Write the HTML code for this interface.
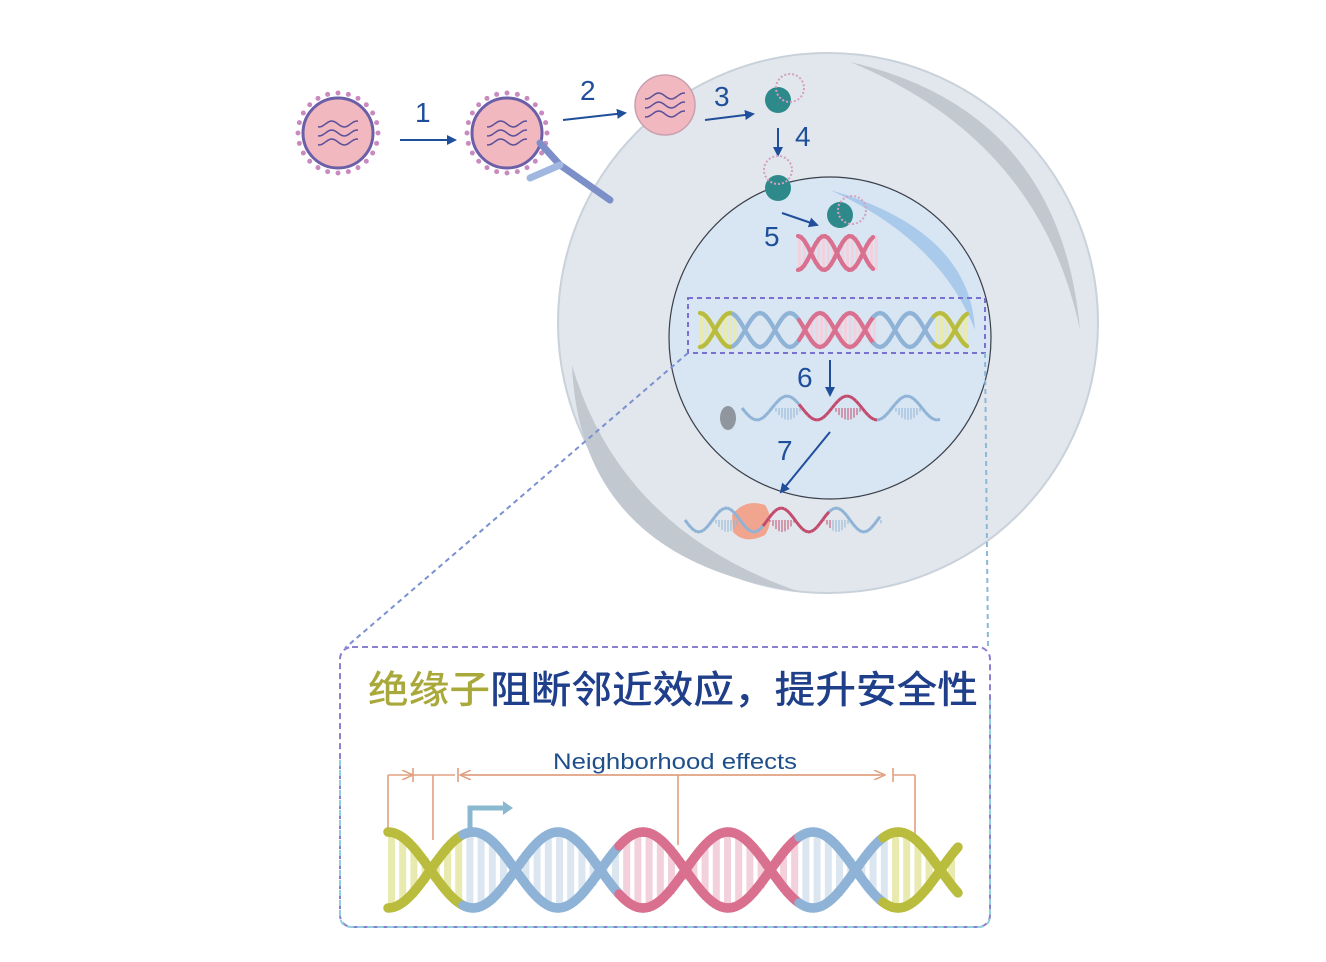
<!DOCTYPE html>
<html><head><meta charset="utf-8">
<style>
html,body{margin:0;padding:0;background:#fff;}
svg{display:block;}
</style></head>
<body>
<svg id="s" width="1326" height="962" viewBox="0 0 1326 962" xmlns="http://www.w3.org/2000/svg" font-family="Liberation Sans, Noto Sans CJK SC, sans-serif">
<defs>
<marker id="ar" markerWidth="10" markerHeight="10" refX="8" refY="5" orient="auto" markerUnits="userSpaceOnUse"><path d="M0,0 L10,5 L0,10 z" fill="#1f4f9a"/></marker>
<marker id="ao" markerWidth="12" markerHeight="10" refX="11" refY="5" orient="auto" markerUnits="userSpaceOnUse"><path d="M0,0 L11,5 L0,10" fill="none" stroke="#e0a080" stroke-width="1.5"/></marker>
</defs>
<circle cx="828" cy="323" r="270" fill="#e2e7ed" stroke="#c9d1da" stroke-width="2"/>
<path d="M850,62 Q1060,110 1080,330 Q1040,140 850,62 z" fill="#c2c8cf"/>
<path d="M572,365 Q580,560 800,592 Q620,530 572,365 z" fill="#c2c8cf"/>
<circle cx="830" cy="338" r="161" fill="#d8e5f3" stroke="#3a3f4a" stroke-width="1.2"/>
<path d="M830,190 Q970,230 975,330 Q940,240 830,190 z" fill="#9fc3ea" opacity="0.8"/>
<ellipse cx="728" cy="418" rx="8" ry="12" fill="#8f969e"/>
<g id="v1"></g>
<path d="M540,143 L560,165 L610,200" stroke="#7d8fc8" stroke-width="7" fill="none" stroke-linecap="round"/>
<path d="M560,165 L530,178" stroke="#a0b8e0" stroke-width="7" stroke-linecap="round"/>
<g stroke="#1f4f9a" stroke-width="2" fill="none" marker-end="url(#ar)">
<line x1="400" y1="140" x2="455" y2="140"/>
<line x1="563" y1="120" x2="625" y2="113"/>
<line x1="705" y1="120" x2="753" y2="114"/>
<line x1="778" y1="128" x2="778" y2="155"/>
<line x1="782" y1="213" x2="817" y2="225"/>
<line x1="830" y1="360" x2="830" y2="395"/>
<line x1="830" y1="432" x2="781" y2="492"/>
</g>
<g fill="#1f4f9a" font-size="28">
<text x="415" y="122">1</text><text x="580" y="100">2</text><text x="714" y="106">3</text>
<text x="795" y="146">4</text><text x="764" y="246">5</text><text x="797" y="387">6</text><text x="777" y="460">7</text>
</g>
<g fill="#2e8a8a">
<circle cx="778" cy="100" r="13"/><circle cx="778" cy="188" r="13"/><circle cx="840" cy="215" r="13"/>
</g>
<g fill="none" stroke="#d6a0c0" stroke-width="2" stroke-dasharray="2 2">
<circle cx="790" cy="88" r="14"/><circle cx="778" cy="170" r="14"/><circle cx="852" cy="210" r="14"/>
</g>
<path d="M732,515 Q745,498 765,505 Q775,520 765,535 Q745,545 733,532 z" fill="#f2a58e"/>
<rect x="688" y="298" width="297" height="55" fill="none" stroke="#7a70d0" stroke-width="2" stroke-dasharray="5 4"/>
<line x1="688" y1="353" x2="345" y2="648" stroke="#7a90d0" stroke-width="2" stroke-dasharray="5 4"/>
<line x1="985" y1="353" x2="988" y2="648" stroke="#8ab8d8" stroke-width="2" stroke-dasharray="5 4"/>
<rect x="340" y="647" width="650" height="280" rx="12" fill="none" stroke="#8a80d0" stroke-width="2" stroke-dasharray="6 4"/>
<path d="M340,760 L340,915 Q340,927 352,927 L978,927 Q990,927 990,915 L990,700" fill="none" stroke="#8fd0dc" stroke-width="2" stroke-dasharray="6 4"/>
<text x="368" y="703" font-size="38" fill="#a9a83a" font-weight="500" textLength="610" lengthAdjust="spacingAndGlyphs">绝缘子<tspan fill="#1f3f8a">阻断邻近效应，提升安全性</tspan></text>
<text x="553" y="769" font-size="22" fill="#1f4f8a" textLength="244" lengthAdjust="spacingAndGlyphs">Neighborhood effects</text>
<g stroke="#e0a080" stroke-width="1.6" fill="none">
<line x1="388" y1="775" x2="388" y2="830"/><line x1="388" y1="775" x2="413" y2="775" marker-end="url(#ao)"/>
<line x1="413" y1="768" x2="413" y2="782"/><line x1="413" y1="775" x2="455" y2="775"/>
<line x1="433" y1="775" x2="433" y2="840"/>
<line x1="458" y1="768" x2="458" y2="782"/>
<line x1="880" y1="775" x2="460" y2="775" marker-end="url(#ao)"/>
<line x1="460" y1="775" x2="885" y2="775" marker-end="url(#ao)"/>
<line x1="893" y1="768" x2="893" y2="782"/><line x1="893" y1="775" x2="915" y2="775"/>
<line x1="915" y1="775" x2="915" y2="835"/>
<line x1="678" y1="775" x2="678" y2="845"/>
</g>
<path d="M470,830 L470,808 L505,808" stroke="#8ab8d0" stroke-width="5" fill="none"/>
<path d="M503,801 L513,808 L503,815 z" fill="#8ab8d0"/>
<g id="dna"></g>
</svg>
<script>
var NS="http://www.w3.org/2000/svg",s=document.getElementById('dna');
function el(t,a,p){var e=document.createElementNS(NS,t);for(var k in a)e.setAttribute(k,a[k]);(p||s).appendChild(e);return e;}
function helix(x0,x1,cy,A,half,colf,rw){
 var step=rw*1.6;
 for(var x=x0;x<=x1;x+=step){var ph=(x-x0)/half*Math.PI;var y=A*Math.cos(ph);var c=colf(x);
  el('rect',{x:x,y:cy-Math.abs(y),width:rw,height:2*Math.abs(y)+1,fill:c.r});}
 for(var k=0;k<2;k++){var prev=null;
  for(var x=x0;x<=x1;x+=3){var c=colf(x).s;var ph=(x-x0)/half*Math.PI;var y=cy+(k?-1:1)*A*Math.cos(ph);
   if(prev)el('line',{x1:prev[0],y1:prev[1],x2:x,y2:y,stroke:c,'stroke-width':A/4,'stroke-linecap':'round'});prev=[x,y];}}
}
var Y={r:'#e8eab0',s:'#b9bc3c'},B={r:'#dbe6f0',s:'#8fb3d6'},P={r:'#f2d0dc',s:'#d9708f'};
helix(388,958,870,38,85,function(x){return x<465||x>885?Y:(x<620||x>800?B:P);},7);
helix(700,968,330,17,30,function(x){return x<735||x>935?Y:(x<800||x>875?B:P);},3);
helix(798,875,253,17,26,function(){return P;},3);
function wave(x0,x1,cy,A,per,colf){var prev=null;for(var x=x0;x<=x1;x+=3){var y=cy+A*Math.sin((x-x0)/per*2*Math.PI);var c=colf(x);
 if(prev)el('line',{x1:prev[0],y1:prev[1],x2:x,y2:y,stroke:c,'stroke-width':3});
 if(((x-x0)/per*2*Math.PI)%(2*Math.PI)>Math.PI) el('rect',{x:x,y:cy,width:2,height:Math.abs(y-cy),fill:c,opacity:0.5});
 prev=[x,y];}}
wave(742,942,408,12,60,function(x){return x>800&&x<880?'#c24a6c':'#8fb3d6';});
wave(685,880,520,12,55,function(x){return x>765&&x<830?'#c24a6c':'#8fb3d6';});
var vg=document.getElementById('v1');
[[338,133,35,1],[507,133,35,1],[665,105,30,0]].forEach(function(v){
 if(v[3])for(var i=0;i<24;i++){var a=i/24*2*Math.PI;el('circle',{cx:v[0]+(v[2]+5)*Math.cos(a),cy:v[1]+(v[2]+5)*Math.sin(a),r:2.5,fill:'#c98ac0'},vg);}
 el('circle',{cx:v[0],cy:v[1],r:v[2],fill:'#f1b8c0',stroke:v[3]?'#6b5fa8':'#c9a0b0','stroke-width':v[3]?3:1.5},vg);
 for(var j=-1;j<=1;j++){var d='';for(var t=-20;t<=20;t+=2){d+=(d?'L':'M')+(v[0]+t)+','+(v[1]+j*9+3*Math.sin(t/4));}
 el('path',{d:d,fill:'none',stroke:'#5a4f98','stroke-width':1.5},vg);}
});
</script>
</body></html>
